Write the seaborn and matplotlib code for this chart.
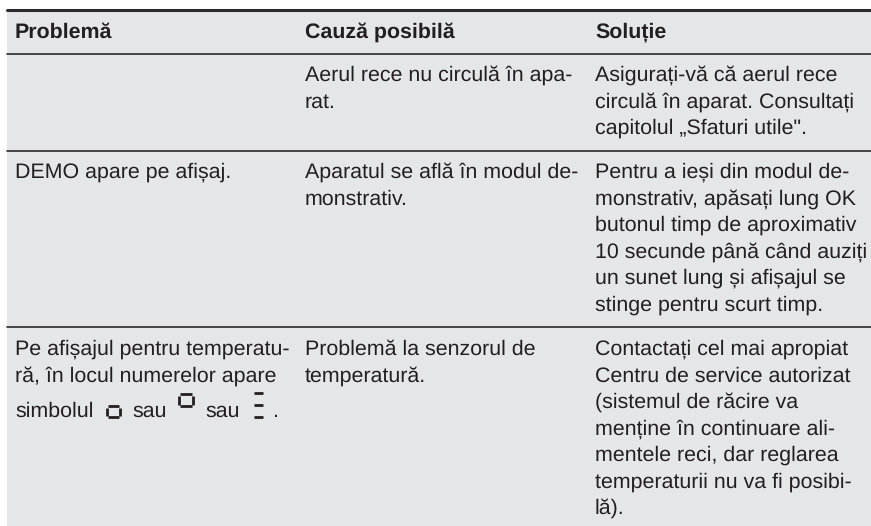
import matplotlib
matplotlib.use("Agg")
import matplotlib.pyplot as plt
import pandas as pd
import seaborn as sns
from matplotlib.patches import Rectangle

W, H = 871, 526
sns.set_theme(style="white")
plt.rcParams['font.family'] = ['Liberation Sans', 'DejaVu Sans']
plt.rcParams['text.hinting'] = 'no_hinting'
plt.rcParams['text.hinting_factor'] = 8

headers = ["Problemă", "Cauză posibilă", "Soluție"]
col_x = [15, 305, 595]
header_y = 37.5
col1 = [(178, "DEMO apare pe afișaj."),
        (355, "Pe afișajul pentru temperatu-"),
        (381.5, "ră, în locul numerelor apare")]
col2_lines = ["Aerul rece nu circulă în apa-", "rat."]
col2b = ["Aparatul se află în modul de-", "monstrativ."]
col2c = ["Problemă la senzorul de", "temperatură."]
col3a = ["Asigurați-vă că aerul rece", "circulă în aparat. Consultați", "capitolul „Sfaturi utile\"."]
col3b = ["Pentru a ieși din modul de-", "monstrativ, apăsați lung OK", "butonul timp de aproximativ",
         "10 secunde până când auziți", "un sunet lung și afișajul se", "stinge pentru scurt timp."]
col3c = ["Contactați cel mai apropiat", "Centru de service autorizat", "(sistemul de răcire va",
         "menține în continuare ali-", "mentele reci, dar reglarea", "temperaturii nu va fi posibi-", "lă)."]
row_first = [81, 178, 355]
simbol_words = [(15, "simbolul"), (132, "sau"), (205, "sau"), (272, ".")]
rules = pd.DataFrame({
    "x": [7, 871, 7, 871, 7, 871, 7, 871],
    "y": [10, 10, 53.5, 53.5, 150.5, 150.5, 327, 327],
    "rule": ["a", "a", "b", "b", "c", "c", "d", "d"],
})

fig, ax = plt.subplots(figsize=(W / 100, H / 100), dpi=100)
ax.set_position([0, 0, 1, 1])
ax.add_patch(Rectangle((7, 10), W - 7, H - 10, color="#e5e6e8", lw=0, zorder=0))
sns.lineplot(data=rules[rules.rule != "a"], x="x", y="y", units="rule", estimator=None,
             color="#2a2a2c", lw=1.2, ax=ax, legend=False)
sns.lineplot(data=rules[rules.rule == "a"], x="x", y="y", units="rule", estimator=None,
             color="#2a2a2c", lw=2.2, ax=ax, legend=False)
ax.set_xlim(0, W)
ax.set_ylim(H, 0)
ax.axis("off")

FS = 15.4
TC = "#231f20"
LH = 26.5
for x, t in zip(col_x, headers):
    ax.text(x, header_y, t, fontsize=FS, fontweight="bold", color=TC, va="baseline")
for y, t in col1:
    ax.text(col_x[0], y, t, fontsize=FS, color=TC, va="baseline")
for first, lines, x in [(row_first[0], col2_lines, col_x[1]), (row_first[1], col2b, col_x[1]),
                        (row_first[2], col2c, col_x[1]), (row_first[0], col3a, col_x[2]),
                        (row_first[1], col3b, col_x[2]), (row_first[2], col3c, col_x[2])]:
    for i, t in enumerate(lines):
        ax.text(x, first + i * LH, t, fontsize=FS, color=TC, va="baseline")
for x, t in simbol_words:
    ax.text(x, 417, t, fontsize=FS, color=TC, va="baseline")

def seg(x0, x1, y0, y1):
    ax.plot([x0, x1], [y0, y1], color=TC, lw=2.0, solid_capstyle="butt")

for (x0, x1, y0, y1) in [(106.5, 120, 406, 417), (178.5, 193, 394, 406)]:
    seg(x0 + 1.5, x1 - 1.5, y0, y0)
    seg(x0 + 1.5, x1 - 1.5, y1, y1)
    seg(x0, x0, y0 + 1.5, y1 - 1.5)
    seg(x1, x1, y0 + 1.5, y1 - 1.5)
for y in (393, 405, 417):
    seg(254, 263, y, y)

fig.savefig("out.png", dpi=100)
